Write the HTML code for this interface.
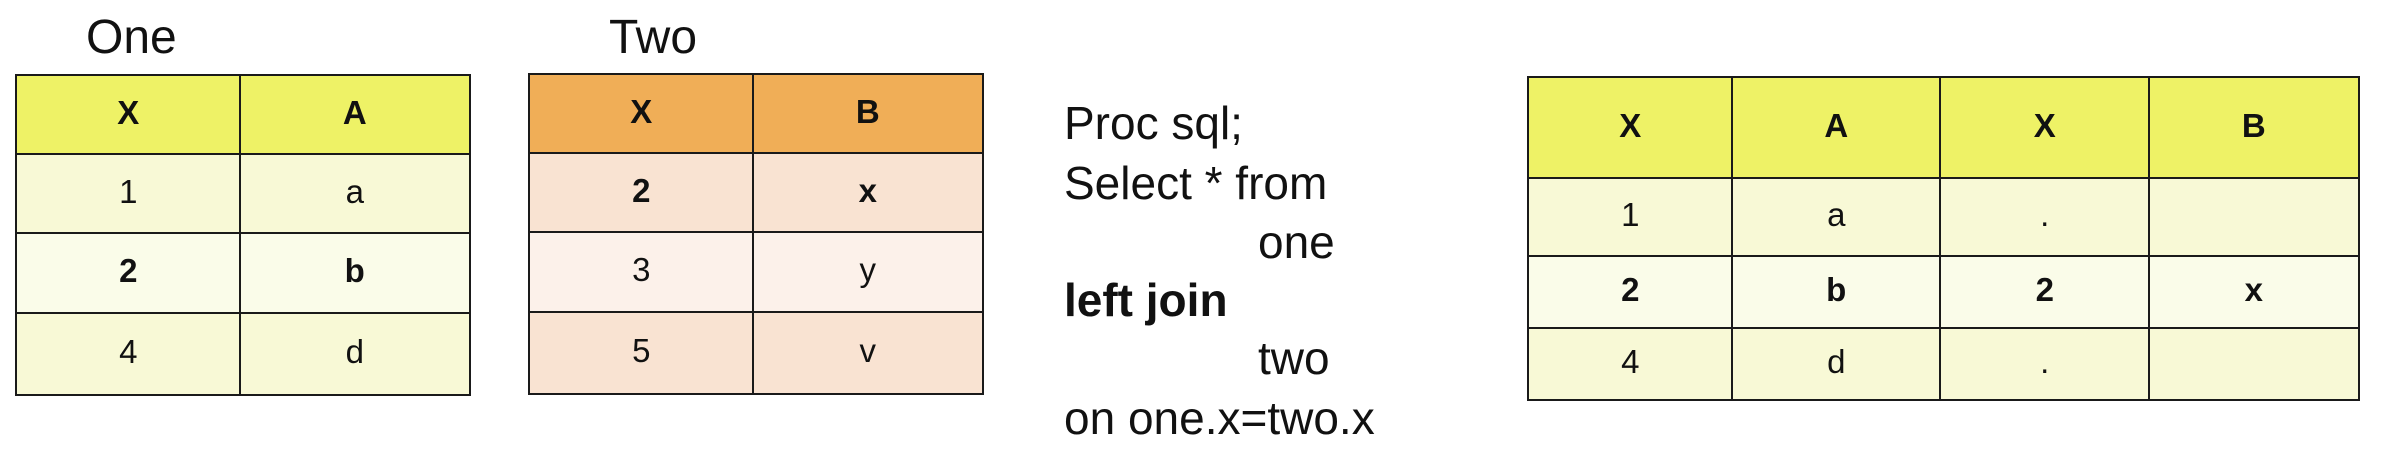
<!DOCTYPE html>
<html><head><meta charset="utf-8">
<style>
html,body{margin:0;padding:0;background:#fff;}
body{width:2394px;height:452px;position:relative;overflow:hidden;font-family:"Liberation Sans",Arial,sans-serif;color:#111;}
.c{position:absolute;box-sizing:border-box;border:2.5px solid #1a1a1a;text-align:center;font-size:33px;}
.c span{position:absolute;left:0;right:0;top:50%;transform:translateY(-58%);line-height:1;}
.b{font-weight:bold;}
.lbl{position:absolute;font-size:48px;line-height:1;}
.sql{position:absolute;font-size:46px;line-height:1;white-space:pre;}
</style></head><body>
<div class="lbl" style="left:86px;top:14px">One</div>
<div class="lbl" style="left:609px;top:14px">Two</div>

<div class="sql" style="left:1064px;top:100px">Proc sql;</div>
<div class="sql" style="left:1064px;top:160px">Select * from</div>
<div class="sql" style="left:1258px;top:219px">one</div>
<div class="sql b" style="left:1064px;top:277px">left join</div>
<div class="sql" style="left:1258px;top:335px">two</div>
<div class="sql" style="left:1064px;top:395px">on one.x=two.x</div>

<div id="root"></div>
<script>
var oneHeaders = ["X","A"];
var oneRows = [["1","a"],["2","b"],["4","d"]];
var twoHeaders = ["X","B"];
var twoRows = [["2","x"],["3","y"],["5","v"]];
var resHeaders = ["X","A","X","B"];
var resRows = [["1","a",".",""],["2","b","2","x"],["4","d",".",""]];

var root = document.getElementById('root');
function build(name, headers, rows, xs, ys, headBg, rowBg, boldRow) {
  var wrap = document.createElement('div');
  
  
  root.appendChild(wrap);
  for (var r = 0; r <= rows.length; r++) {
    for (var c = 0; c < headers.length; c++) {
      var d = document.createElement('div');
      d.className = 'c';
      d.style.left = (xs[c] - 1) + 'px';
      d.style.width = (xs[c+1] - xs[c] + 2.5) + 'px';
      d.style.top = (ys[r] - 1) + 'px';
      d.style.height = (ys[r+1] - ys[r] + 2.5) + 'px';
      d.style.background = r === 0 ? headBg : rowBg[r-1];
      var txt = r === 0 ? headers[c] : rows[r-1][c];
      if (r === 0 || r === boldRow) d.classList.add('b');
      
      
      var s = document.createElement('span');
      s.textContent = txt;
      d.appendChild(s);
      wrap.appendChild(d);
    }
  }
}
build('table-one', oneHeaders, oneRows, [16,240,469], [75,154,233,313,394],
  '#eef266', ['#f8f9d6','#fafce9','#f8f9d6'], 2);
build('table-two', twoHeaders, twoRows, [529,753,982], [74,153,232,312,393],
  '#f0ae57', ['#f9e3d2','#fcf1ea','#f9e3d2'], 1);
build('result-table', resHeaders, resRows, [1528,1732,1940,2149,2358], [77,178,256,328,399],
  '#eef266', ['#f8f9d6','#fafce9','#f8f9d6'], 2);
</script>
</body></html>
